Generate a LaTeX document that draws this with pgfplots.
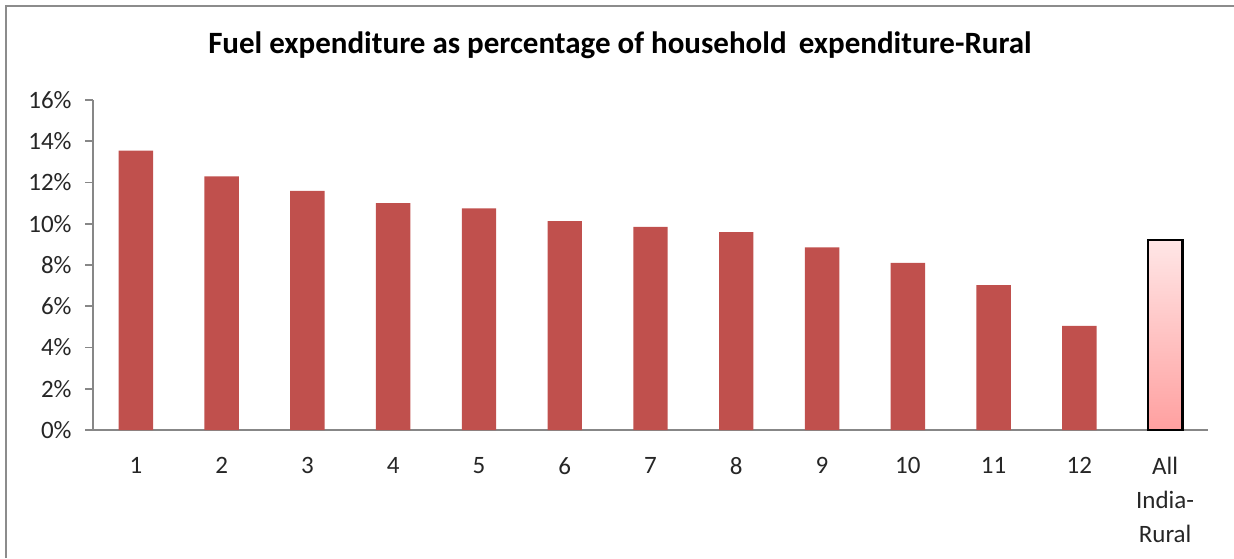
\documentclass[border=0pt]{standalone}
\usepackage{pgfplots}
\pgfplotsset{compat=1.18}
\usepackage{fontspec}
\setmainfont{Carlito}
\definecolor{barred}{HTML}{C0504D}
\definecolor{axgray}{HTML}{878787}
\definecolor{frgray}{HTML}{8C8C8C}
\begin{document}
\begin{tikzpicture}
\useasboundingbox (0,0) rectangle (617pt,279pt);
\draw[frgray, line width=1.2pt] (3pt,0pt) -- (3pt,276pt) -- (617pt,276pt);
\node[anchor=base, font=\fontsize{15.5}{18}\selectfont\bfseries] at (310pt,252pt) {Fuel expenditure as percentage of household\ \,expenditure-Rural};
\begin{axis}[
  at={(46.5pt,64pt)}, anchor=south west,
  scale only axis, width=557.5pt, height=165pt,
  ymin=0, ymax=16, xmin=-0.5, xmax=12.5,
  ybar, bar width=17.2pt,
  axis x line*=bottom, axis y line*=left,
  axis line style={axgray, line width=0.8pt},
  ytick={0,2,4,6,8,10,12,14,16},
  yticklabels={0\%,2\%,4\%,6\%,8\%,10\%,12\%,14\%,16\%},
  xtick={0,1,2,3,4,5,6,7,8,9,10,11,12},
  xticklabels={1,2,3,4,5,6,7,8,9,10,11,12,{All\\India-\\Rural}},
  major tick length=4pt,
  tick style={axgray, line width=0.8pt},
  ytick pos=left, xtick style={draw=none},
  tick align=outside,
  yticklabel style={inner sep=0pt, xshift=-6.5pt, font=\fontsize{12.5}{17}\selectfont, text=black!85},
  xticklabel style={inner sep=0pt, yshift=-9.5pt, align=center, font=\fontsize{12.5}{17}\selectfont, text=black!85},
  clip=false,
]
\addplot[fill=barred, draw=none, bar shift=0pt] coordinates {
 (0,13.55) (1,12.3) (2,11.6) (3,11.0) (4,10.75) (5,10.13) (6,9.85) (7,9.6) (8,8.85) (9,8.1) (10,7.03) (11,5.05)};
\addplot[draw=black, line width=1.2pt, top color={rgb,255:red,255;green,230;blue,230}, bottom color={rgb,255:red,255;green,160;blue,160}, bar shift=0pt] coordinates {(12,9.2)};
\end{axis}
\end{tikzpicture}
\end{document}
